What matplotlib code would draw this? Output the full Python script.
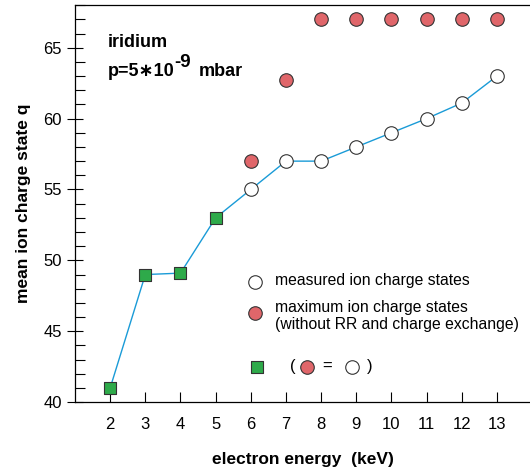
import matplotlib
matplotlib.use('Agg')
from matplotlib import pyplot as plt
from matplotlib.ticker import MultipleLocator

plt.rcParams['font.family'] = ['Liberation Sans', 'DejaVu Sans']

# green squares: measured = maximum
sq_energy = [2, 3, 4, 5]
sq_q = [41, 49, 49.1, 53]

# measured ion charge states
meas_energy = [6, 7, 8, 9, 10, 11, 12, 13]
meas_q = [55, 57, 57, 58, 59, 60, 61.1, 63]

# maximum ion charge states
max_energy = [6, 7, 8, 9, 10, 11, 12, 13]
max_q = [57, 62.7, 67, 67, 67, 67, 67, 67]

line_color = '#1a9bd7'
red = '#e0666a'
green = '#2eaa4a'
edge = '#333333'

fig = plt.figure(figsize=(5.3, 4.72), dpi=100)
ax = fig.add_axes([0.1415, 0.148, 0.8585, 0.841])

ax.plot(sq_energy + meas_energy, sq_q + meas_q, color=line_color, lw=1, zorder=1)
ax.scatter(sq_energy, sq_q, marker='s', s=80, color=green, edgecolor=edge, lw=0.8, zorder=3)
ax.scatter(meas_energy, meas_q, marker='o', s=95, color='white', edgecolor=edge, lw=0.8, zorder=3)
ax.scatter(max_energy, max_q, marker='o', s=95, color=red, edgecolor=edge, lw=0.8, zorder=3)

ax.set_xlim(1.0, 13.94)
ax.set_ylim(40, 68)
ax.set_xticks(range(2, 14))
ax.yaxis.set_major_locator(MultipleLocator(5))
ax.yaxis.set_minor_locator(MultipleLocator(1))
ax.tick_params(axis='x', direction='in', length=7, width=0.8, labelsize=12, pad=11)
ax.tick_params(axis='y', which='major', direction='inout', length=12, width=0.8, labelsize=12)
ax.tick_params(axis='y', which='minor', direction='in', length=7, width=0.8)
ax.spines['right'].set_visible(False)
for s in ['left', 'top', 'bottom']:
    ax.spines[s].set_linewidth(0.9)

ax.set_xlabel('electron energy  (keV)', fontsize=12.5, fontweight='bold', labelpad=14)
ax.set_ylabel('mean ion charge state q', fontsize=12.5, fontweight='bold', labelpad=9)

ax.text(1.92, 65.35, 'iridium', fontsize=13, fontweight='bold', va='center')
t1 = ax.text(1.92, 63.3, 'p=5\u221710', fontsize=13, fontweight='bold', va='center')
ax.annotate('-9', xy=(1, 0.5), xycoords=t1, xytext=(0, 7), textcoords='offset points',
            fontsize=13.5, fontweight='bold', va='center')
ax.annotate('mbar', xy=(1, 0.5), xycoords=t1, xytext=(18, 0), textcoords='offset points',
            fontsize=13, fontweight='bold', va='center')

# legend drawn by hand
ax.scatter([6.11], [48.5], marker='o', s=95, color='white', edgecolor=edge, lw=0.8)
ax.text(6.68, 48.55, 'measured ion charge states', fontsize=11.3, va='center')
ax.scatter([6.11], [46.3], marker='o', s=95, color=red, edgecolor=edge, lw=0.8)
ax.text(6.68, 46.65, 'maximum ion charge states', fontsize=11.3, va='center')
ax.text(6.68, 45.45, '(without RR and charge exchange)', fontsize=11.3, va='center')
ax.scatter([6.17], [42.5], marker='s', s=80, color=green, edgecolor=edge, lw=0.8)
ax.text(7.19, 42.5, '(', fontsize=12, va='center', ha='center')
ax.scatter([7.59], [42.5], marker='o', s=95, color=red, edgecolor=edge, lw=0.8)
ax.text(8.16, 42.5, '=', fontsize=12, va='center', ha='center')
ax.scatter([8.87], [42.5], marker='o', s=95, color='white', edgecolor=edge, lw=0.8)
ax.text(9.38, 42.5, ')', fontsize=12, va='center', ha='center')

fig.savefig('out.png', dpi=100)
